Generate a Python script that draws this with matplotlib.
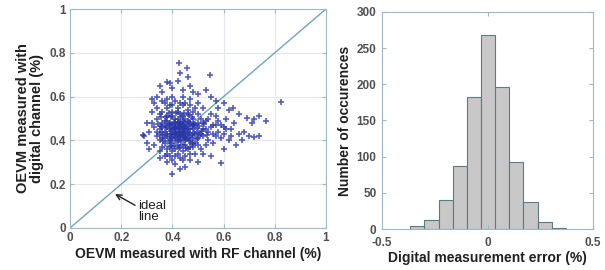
import matplotlib
matplotlib.use("Agg")
import matplotlib.pyplot as plt

# scatter: OEVM (RF channel) vs OEVM (digital channel)
rf_x = [
    0.36, 0.37, 0.38, 0.38, 0.39, 0.39, 0.40, 0.40, 0.40, 0.41,
    0.41, 0.41, 0.42, 0.42, 0.42, 0.43, 0.43, 0.43, 0.44, 0.44,
    0.44, 0.45, 0.45, 0.45, 0.46, 0.46, 0.47, 0.47, 0.48, 0.48,
    0.49, 0.50, 0.37, 0.38, 0.39, 0.40, 0.41, 0.42, 0.43, 0.44,
    0.45, 0.46, 0.47, 0.48, 0.49, 0.36, 0.35, 0.37, 0.39, 0.41,
    0.42, 0.43, 0.44, 0.45, 0.46, 0.40, 0.41, 0.42, 0.43, 0.44,
    0.34, 0.35, 0.36, 0.36, 0.38, 0.38, 0.40, 0.40, 0.42, 0.42,
    0.44, 0.44, 0.46, 0.46, 0.48, 0.48, 0.50, 0.50, 0.52, 0.52,
    0.53, 0.54, 0.54, 0.55, 0.56, 0.33, 0.34, 0.35, 0.37, 0.39,
    0.41, 0.43, 0.45, 0.47, 0.49, 0.51, 0.51, 0.53, 0.55, 0.57,
    0.58, 0.56, 0.59, 0.60, 0.57, 0.52, 0.50, 0.47, 0.44, 0.40,
    0.38, 0.36, 0.34, 0.32, 0.33, 0.35, 0.37, 0.40, 0.44, 0.47,
    0.427, 0.458, 0.547, 0.378, 0.43, 0.824, 0.638, 0.69, 0.72, 0.74,
    0.764, 0.71, 0.72, 0.74, 0.70, 0.59, 0.397, 0.43, 0.286, 0.30,
    0.32, 0.47, 0.66, 0.64, 0.40, 0.44, 0.36, 0.50, 0.53, 0.48,
    0.62, 0.63, 0.61, 0.65, 0.60, 0.55, 0.50, 0.52, 0.45, 0.41,
    0.38, 0.35, 0.31, 0.30, 0.31, 0.34, 0.39, 0.57, 0.58, 0.66,
    0.68, 0.67, 0.62, 0.60, 0.35, 0.42, 0.46, 0.55, 0.33, 0.29,
    0.395, 0.405, 0.415, 0.425, 0.435, 0.445, 0.455, 0.465, 0.475, 0.485,
    0.375, 0.385, 0.395, 0.405, 0.415, 0.425, 0.435, 0.445, 0.455, 0.465,
    0.475, 0.485, 0.495, 0.505, 0.515, 0.365, 0.355, 0.385, 0.395, 0.425,
    0.455, 0.475, 0.495, 0.505, 0.415, 0.445, 0.385, 0.465, 0.425, 0.435,
    0.405, 0.445, 0.455, 0.415, 0.375, 0.365, 0.525, 0.535, 0.345, 0.355,
    0.38, 0.39, 0.40, 0.41, 0.42, 0.43, 0.44, 0.45, 0.46, 0.47,
    0.48, 0.49, 0.50, 0.51, 0.37, 0.38, 0.40, 0.42, 0.44, 0.46,
    0.48, 0.50, 0.52, 0.53, 0.54, 0.39, 0.41, 0.43, 0.45, 0.47,
    0.36, 0.37, 0.35, 0.56, 0.57, 0.58, 0.60, 0.61, 0.59, 0.63,
    0.39, 0.43, 0.47, 0.41, 0.45, 0.49, 0.38, 0.36, 0.34, 0.32,
    0.405, 0.435, 0.445, 0.465, 0.425, 0.395, 0.415, 0.435, 0.455, 0.475,
]
dig_y = [
    0.44, 0.47, 0.42, 0.49, 0.45, 0.40, 0.47, 0.43, 0.51, 0.44,
    0.41, 0.48, 0.46, 0.42, 0.50, 0.44, 0.40, 0.47, 0.45, 0.42,
    0.49, 0.46, 0.43, 0.40, 0.47, 0.44, 0.42, 0.48, 0.45, 0.41,
    0.47, 0.44, 0.41, 0.46, 0.48, 0.39, 0.46, 0.38, 0.52, 0.38,
    0.50, 0.41, 0.45, 0.50, 0.43, 0.48, 0.45, 0.44, 0.43, 0.43,
    0.44, 0.46, 0.47, 0.45, 0.49, 0.45, 0.50, 0.48, 0.42, 0.44,
    0.50, 0.40, 0.53, 0.37, 0.55, 0.36, 0.56, 0.35, 0.55, 0.34,
    0.56, 0.35, 0.54, 0.36, 0.53, 0.37, 0.52, 0.38, 0.48, 0.42,
    0.45, 0.50, 0.40, 0.46, 0.43, 0.46, 0.42, 0.52, 0.57, 0.33,
    0.58, 0.32, 0.57, 0.34, 0.55, 0.36, 0.50, 0.38, 0.52, 0.47,
    0.44, 0.39, 0.41, 0.46, 0.51, 0.55, 0.57, 0.59, 0.60, 0.60,
    0.59, 0.58, 0.55, 0.53, 0.38, 0.35, 0.33, 0.31, 0.31, 0.31,
    0.755, 0.729, 0.699, 0.668, 0.71, 0.574, 0.547, 0.501, 0.50, 0.51,
    0.49, 0.48, 0.417, 0.42, 0.42, 0.295, 0.247, 0.27, 0.425, 0.39,
    0.59, 0.65, 0.43, 0.48, 0.64, 0.63, 0.62, 0.61, 0.63, 0.62,
    0.40, 0.45, 0.50, 0.38, 0.36, 0.33, 0.30, 0.34, 0.28, 0.29,
    0.30, 0.32, 0.44, 0.48, 0.36, 0.60, 0.66, 0.58, 0.55, 0.52,
    0.44, 0.40, 0.54, 0.57, 0.65, 0.67, 0.69, 0.60, 0.57, 0.42,
    0.415, 0.455, 0.475, 0.435, 0.455, 0.415, 0.475, 0.435, 0.465, 0.435,
    0.455, 0.475, 0.505, 0.425, 0.395, 0.485, 0.505, 0.465, 0.425, 0.395,
    0.505, 0.475, 0.455, 0.465, 0.445, 0.425, 0.465, 0.395, 0.375, 0.365,
    0.365, 0.385, 0.405, 0.425, 0.525, 0.525, 0.525, 0.515, 0.415, 0.395,
    0.485, 0.485, 0.455, 0.455, 0.505, 0.395, 0.475, 0.425, 0.475, 0.505,
    0.43, 0.47, 0.41, 0.45, 0.40, 0.48, 0.43, 0.41, 0.45, 0.40,
    0.47, 0.39, 0.48, 0.43, 0.39, 0.51, 0.53, 0.53, 0.51, 0.52,
    0.39, 0.41, 0.45, 0.49, 0.44, 0.37, 0.36, 0.37, 0.38, 0.37,
    0.46, 0.49, 0.43, 0.47, 0.42, 0.49, 0.43, 0.45, 0.47, 0.42,
    0.56, 0.57, 0.56, 0.33, 0.33, 0.34, 0.34, 0.41, 0.44, 0.48,
    0.375, 0.425, 0.445, 0.485, 0.455, 0.445, 0.435, 0.475, 0.405, 0.425,
]

# histogram of digital measurement error
bin_edges = [-0.366, -0.299, -0.232, -0.165, -0.098, -0.031,
             0.036, 0.103, 0.170, 0.237, 0.304, 0.371]
bin_counts = [4, 12, 40, 87, 182, 268, 196, 92, 38, 10, 1]

spine_col = "#9fb8c8"
tick_col = "#505050"
plt.rcParams["font.family"] = ["Liberation Sans", "DejaVu Sans"]

fig = plt.figure(figsize=(6.05, 2.70), dpi=100)
ax1 = fig.add_axes([70 / 605, 42 / 270, 256 / 605, 219 / 270])
ax2 = fig.add_axes([382 / 605, 41 / 270, 211 / 605, 217 / 270])

# left panel
ax1.plot([0, 1], [0, 1], color="#6fa6b6", linewidth=1.0, zorder=2)
ax1.plot(rf_x, dig_y, "+", color="#2a35a8", markersize=5, mew=1.2,
         alpha=0.8, zorder=3)
ax1.set_xlim(0, 1)
ax1.set_ylim(0, 1)
ax1.set_xticks([0, 0.2, 0.4, 0.6, 0.8, 1])
ax1.set_xticklabels(["0", "0.2", "0.4", "0.6", "0.8", "1"])
ax1.set_yticks([0, 0.2, 0.4, 0.6, 0.8, 1])
ax1.set_yticklabels(["0", "0.2", "0.4", "0.6", "0.8", "1"])
ax1.grid(True, color="#e4e8ec", linewidth=0.8, zorder=0)
ax1.set_xlabel("OEVM measured with RF channel (%)", fontsize=10,
               fontweight="bold", color="#202020", labelpad=2)
ax1.set_ylabel("OEVM measured with\ndigital channel (%)", fontsize=10.5,
               fontweight="bold", color="#202020", labelpad=4,
               linespacing=1.0)
ax1.annotate("ideal\nline", xy=(0.176, 0.155), xytext=(0.265, 0.075),
             fontsize=9.5, color="#202020", ha="left", va="center",
             linespacing=0.95,
             arrowprops=dict(arrowstyle="->", color="#202020", lw=1.0,
                             shrinkA=0, shrinkB=0, relpos=(0, 0.7)))

# right panel
ax2.bar(bin_edges[:-1], bin_counts, width=[b - a for a, b in zip(bin_edges[:-1], bin_edges[1:])],
        align="edge", color="#c8c8c8", edgecolor="#607880", linewidth=0.8)
ax2.set_xlim(-0.5, 0.5)
ax2.set_ylim(0, 300)
ax2.set_xticks([-0.5, 0, 0.5])
ax2.set_xticklabels(["-0.5", "0", "0.5"])
ax2.set_yticks([0, 50, 100, 150, 200, 250, 300])
ax2.set_xlabel("Digital measurement error (%)", fontsize=10,
               fontweight="bold", color="#202020", labelpad=1)
ax2.set_ylabel("Number of occurences", fontsize=10, fontweight="bold",
               color="#202020", labelpad=3)

for ax in (ax1, ax2):
    for sp in ax.spines.values():
        sp.set_color(spine_col)
        sp.set_linewidth(0.8)
    ax.tick_params(direction="in", length=3, width=0.8, color=spine_col,
                   labelcolor=tick_col, labelsize=8.5, top=True, right=True,
                   pad=3)
    for lbl in ax.get_xticklabels() + ax.get_yticklabels():
        lbl.set_fontweight("bold")
ax2.tick_params(axis="x", pad=6)
ax2.tick_params(axis="y", pad=4)

fig.savefig("out.png", dpi=100)
